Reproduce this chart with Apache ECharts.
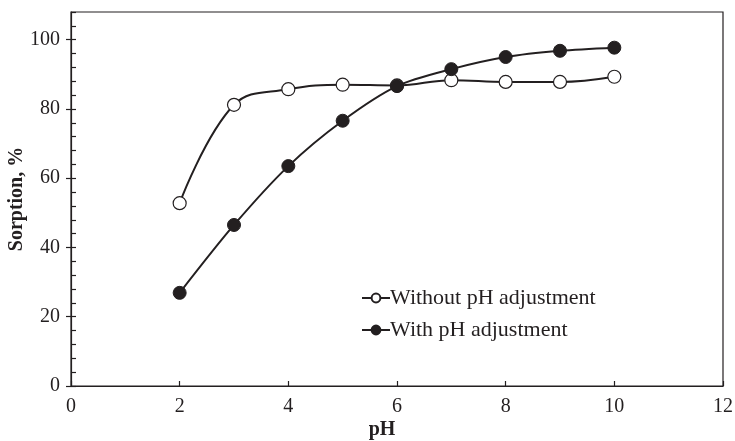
<!DOCTYPE html>
<html lang="en">
<head>
    <meta charset="UTF-8">
    <title>Sorption vs pH</title>
    <style>
        * { padding: 0; margin: 0; }
        body { background: #fff; }
    </style>
    <script src="https://cdn.jsdelivr.net/npm/echarts@6/dist/echarts.min.js"></script>
</head>
<body>
    <div id="main" style="width: 735px; height: 441px;"></div>
    <script type="text/javascript">
        // data
        var phValues = [2, 3, 4, 5, 6, 7, 8, 9, 10];
        var withoutAdjustment = [52.8, 81.2, 85.7, 87.0, 86.8, 88.3, 87.8, 87.8, 89.3];
        var withAdjustment = [26.9, 46.5, 63.5, 76.6, 86.6, 91.5, 95.0, 96.8, 97.7];
        var xTicks = [0, 2, 4, 6, 8, 10, 12];
        var yTicks = [0, 20, 40, 60, 80, 100];

        function pairs(ys) {
            return phValues.map(function (x, i) { return [x, ys[i]]; });
        }

        var ink = '#231f20';
        var font = 'Liberation Serif';

        var myChart = echarts.init(document.getElementById('main'));

        var option = {
            animation: false,
            textStyle: { fontFamily: font, color: ink },
            grid: {
                left: 71, right: 12, top: 12, bottom: 55,
                containLabel: false,
                outerBoundsMode: 'none',
                show: true,
                borderColor: ink,
                borderWidth: 1.2
            },
            legend: {
                orient: 'vertical',
                left: 356,
                top: 282,
                itemGap: 10,
                itemWidth: 28,
                itemHeight: 11,
                textStyle: { fontFamily: font, fontSize: 22, color: ink, padding: [0, 0, 0, -5] },
                data: ['Without pH adjustment', 'With pH adjustment']
            },
            xAxis: {
                type: 'value',
                min: 0,
                max: 12,
                interval: 2,
                name: 'pH',
                nameLocation: 'middle',
                nameGap: 34,
                nameMoveOverlap: false,
                nameTextStyle: { fontFamily: font, fontSize: 20, fontWeight: 'bold', color: ink, padding: [0, 30, 0, 0] },
                axisLine: { lineStyle: { color: ink, width: 1.2 } },
                axisTick: { inside: true, length: 5, lineStyle: { color: ink, width: 1.2 } },
                axisLabel: {
                    fontSize: 20, color: ink, margin: 11,
                    formatter: function (v) { return xTicks.indexOf(v) >= 0 ? v : ''; }
                },
                splitLine: { show: false }
            },
            yAxis: [{
                type: 'value',
                min: 0,
                max: 108,
                interval: 20,
                name: 'Sorption, %',
                nameLocation: 'middle',
                nameGap: 44,
                nameMoveOverlap: false,
                nameTextStyle: { fontFamily: font, fontSize: 20, fontWeight: 'bold', color: ink },
                axisLine: { show: true, lineStyle: { color: ink, width: 1.2 } },
                axisTick: { show: true, inside: false, length: 5, lineStyle: { color: ink, width: 1.2 } },
                axisLabel: {
                    fontSize: 20, color: ink, margin: 11,
                    showMaxLabel: false,
                    formatter: function (v) { return yTicks.indexOf(v) >= 0 ? v : ''; }
                },
                splitLine: { show: false }
            }, {
                // minor ticks, every 4, drawn inside
                type: 'value',
                position: 'left',
                min: 0,
                max: 108,
                interval: 4,
                axisLine: { show: false },
                axisTick: { show: true, inside: true, length: 5, lineStyle: { color: ink, width: 1.2 } },
                axisLabel: { show: false },
                splitLine: { show: false }
            }],
            series: [{
                name: 'Without pH adjustment',
                type: 'line',
                data: pairs(withoutAdjustment),
                smooth: 0.4,
                symbol: 'circle',
                symbolSize: 13,
                lineStyle: { color: ink, width: 2 },
                itemStyle: { color: '#fff', borderColor: ink, borderWidth: 1.2 },
                z: 2
            }, {
                name: 'With pH adjustment',
                type: 'line',
                data: pairs(withAdjustment),
                smooth: 0.3,
                symbol: 'circle',
                symbolSize: 13,
                lineStyle: { color: ink, width: 2 },
                itemStyle: { color: ink, borderColor: ink, borderWidth: 1 },
                z: 3
            }]
        };

        myChart.setOption(option);
    </script>
</body>
</html>
